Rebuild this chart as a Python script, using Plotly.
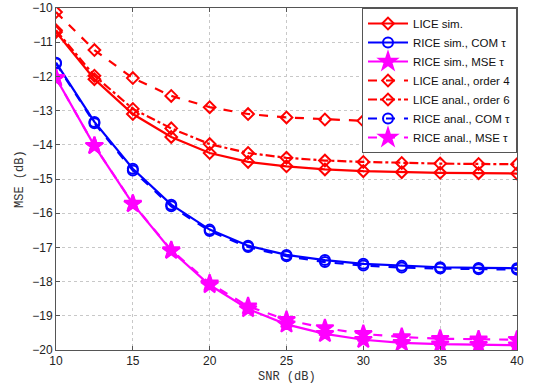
import plotly.graph_objects as go

snr = [10, 12.5, 15, 17.5, 20, 22.5, 25, 27.5, 30, 32.5, 35, 37.5, 40]
lice_sim = [-10.7, -12.08, -13.1, -13.77, -14.24, -14.5, -14.63, -14.72, -14.77, -14.8, -14.82, -14.83, -14.84]
rice_sim_com = [-11.6, -13.33, -14.7, -15.75, -16.48, -16.95, -17.22, -17.37, -17.48, -17.54, -17.58, -17.6, -17.61]
rice_sim_mse = [-12.05, -14.03, -15.73, -17.1, -18.1, -18.8, -19.25, -19.53, -19.7, -19.79, -19.83, -19.85, -19.86]
lice_anal4 = [-10.12, -11.23, -12.05, -12.57, -12.9, -13.1, -13.2, -13.26, -13.3, -13.33, -13.35, -13.36, -13.37]
lice_anal6 = [-10.65, -11.98, -12.95, -13.52, -13.98, -14.24, -14.38, -14.46, -14.5, -14.53, -14.55, -14.56, -14.57]
rice_anal_com = [-11.62, -13.37, -14.75, -15.8, -16.52, -16.99, -17.26, -17.43, -17.53, -17.59, -17.62, -17.64, -17.65]
rice_anal_mse = [-12.05, -14.03, -15.72, -17.08, -18.05, -18.72, -19.12, -19.36, -19.53, -19.62, -19.67, -19.69, -19.7]

xticks = [10, 15, 20, 25, 30, 35, 40]
yticks = [-20, -19, -18, -17, -16, -15, -14, -13, -12, -11, -10]

RED = "#ff0000"
BLUE = "#0000ff"
MAG = "#ff00ff"

series = [
    ("LICE sim.", lice_sim, RED, "solid", "diamond-open", 9),
    ("RICE sim., COM τ", rice_sim_com, BLUE, "solid", "circle-open", 10),
    ("RICE sim., MSE τ", rice_sim_mse, MAG, "solid", "star", 13),
    ("LICE anal., order 4", lice_anal4, RED, "dash", "diamond-open", 9),
    ("LICE anal., order 6", lice_anal6, RED, "dashdot", "diamond-open", 9),
    ("RICE anal., COM τ", rice_anal_com, BLUE, "dash", "circle-open", 10),
    ("RICE anal., MSE τ", rice_anal_mse, MAG, "dash", "star", 13),
]

fig = go.Figure()
for name, vals, col, dash, sym, sz in series:
    fig.add_trace(go.Scatter(
        x=snr, y=vals, name=name, mode="lines+markers",
        line=dict(color=col, width=2.2, dash=dash),
        marker=dict(symbol=sym, size=sz, color=col, line=dict(color=col, width=2)),
    ))

axis_common = dict(
    showline=True, linecolor="#555555", linewidth=1, mirror="ticks",
    ticks="inside", ticklen=4, tickcolor="#555555",
    showgrid=True, gridcolor="#c8c8c8", griddash="dot", gridwidth=1,
    zeroline=False, automargin=False,
    tickfont=dict(family="Liberation Sans, Arial", size=12, color="#222222"),
)

fig.update_xaxes(range=[10, 40], tickvals=xticks, ticktext=[str(v) for v in xticks],
                 **axis_common)
fig.update_yaxes(range=[-20, -10], tickvals=yticks, ticktext=["−" + str(-v) for v in yticks],
                 **axis_common)

title_font = dict(family="Liberation Mono, Courier New", size=12, color="#333333")
fig.add_annotation(text="SNR (dB)", xref="paper", yref="paper", x=0.5, y=-27 / 342,
                   xanchor="center", yanchor="middle", showarrow=False, font=title_font)
fig.add_annotation(text="MSE (dB)", xref="paper", yref="paper", x=-36 / 461, y=0.5,
                   xanchor="center", yanchor="middle", textangle=-90, showarrow=False, font=title_font)

fig.update_layout(
    width=535, height=386,
    margin=dict(l=56, r=18, t=8, b=36, autoexpand=False),
    plot_bgcolor="white", paper_bgcolor="white",
    showlegend=True,
    legend=dict(x=1, y=1, xanchor="right", yanchor="top",
                bgcolor="white", bordercolor="#555555", borderwidth=1,
                font=dict(family="Liberation Sans, Arial", size=11.5, color="#111111"),
                tracegroupgap=0, itemwidth=40),
)

fig.write_html("out.html", config={"displayModeBar": False},
               post_script="document.body.style.margin='0';document.body.style.overflow='hidden';")
